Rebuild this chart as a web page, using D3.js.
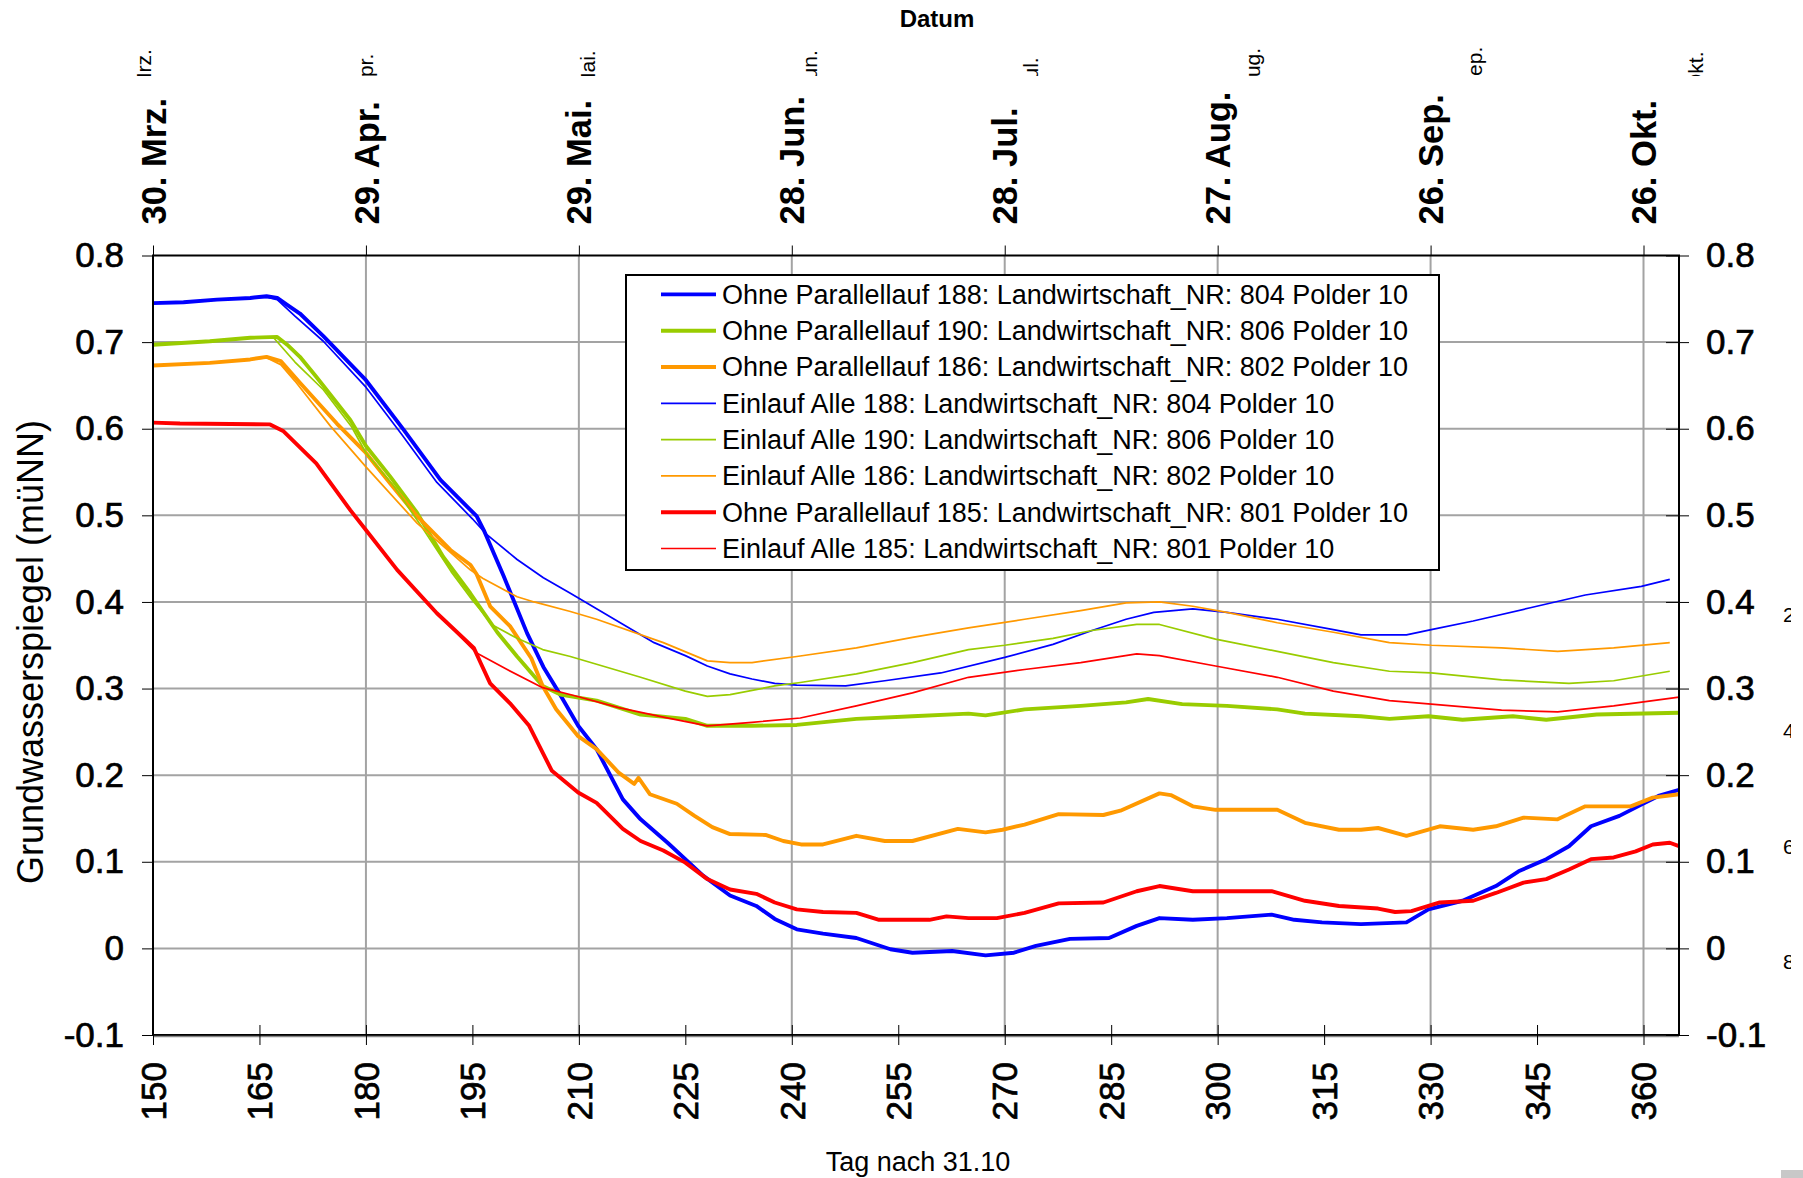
<!DOCTYPE html>
<html>
<head>
<meta charset="utf-8">
<script src="https://cdn.jsdelivr.net/npm/d3@7"></script>
<style>
  body { margin: 0; background: #fff; }
  svg { display: block; }
  text { font-family: "Liberation Sans", Arial, sans-serif; fill: #000; }
</style>
</head>
<body>
<svg id="chart" width="1803" height="1178"></svg>
<script>
// ---- data: groundwater level (m ü NN) per day after 31.10 ----
const ohne188 = [[150,0.745],[154.3,0.746],[159,0.749],[163.7,0.751],[166,0.753],[167.5,0.751],[168.9,0.743],[170.7,0.733],[174,0.707],[180,0.656],[185.3,0.599],[190.5,0.541],[195.6,0.499],[196.6,0.483],[199.4,0.43],[202.7,0.364],[205,0.325],[207,0.298],[209.9,0.257],[212.5,0.23],[216.2,0.172],[218.7,0.149],[222.5,0.122],[225,0.103],[227.5,0.084],[231.3,0.061],[235,0.049],[237.6,0.034],[240.7,0.022],[244.4,0.017],[249.1,0.012],[253.9,-0.001],[257,-0.005],[262.6,-0.003],[267.3,-0.008],[271.3,-0.005],[274.4,0.003],[279.2,0.011],[284.7,0.012],[288.6,0.026],[291.8,0.035],[296.5,0.033],[301.3,0.035],[307.6,0.039],[310.8,0.033],[314.7,0.03],[320.2,0.028],[326.6,0.03],[329.7,0.045],[334.5,0.055],[339.2,0.072],[342.4,0.089],[346.3,0.103],[349.5,0.118],[352.6,0.141],[356.6,0.153],[359.7,0.166],[362.1,0.176],[365,0.183]];
const ohne190 = [[150,0.697],[158,0.701],[163.7,0.705],[167.5,0.706],[168.9,0.697],[170.7,0.683],[173,0.66],[177.8,0.61],[180,0.58],[183.4,0.545],[187.2,0.503],[190.9,0.452],[194.7,0.41],[198.5,0.365],[201.3,0.337],[204.9,0.303],[207.4,0.293],[212.5,0.286],[218.7,0.27],[225,0.265],[228.1,0.257],[234.4,0.257],[240.7,0.258],[249.1,0.265],[257,0.268],[264.9,0.271],[267.3,0.269],[272.8,0.276],[280.7,0.28],[287.1,0.284],[290.2,0.288],[295,0.282],[301.3,0.28],[308.4,0.276],[312.3,0.271],[320.2,0.268],[324.2,0.265],[329.7,0.268],[334.5,0.264],[341.6,0.268],[346.3,0.264],[353.4,0.27],[365,0.272]];
const ohne186 = [[150,0.673],[158,0.676],[163.7,0.68],[166,0.683],[168,0.678],[170.7,0.653],[175.9,0.606],[180,0.572],[183.4,0.537],[187.2,0.499],[191.9,0.46],[194.7,0.443],[195.6,0.432],[197.5,0.395],[200.3,0.372],[203.3,0.335],[204.9,0.303],[206.8,0.276],[209.9,0.245],[212.5,0.23],[215.6,0.203],[217.8,0.19],[218.4,0.197],[220,0.178],[223.8,0.167],[226.3,0.153],[228.8,0.14],[231.3,0.132],[236.3,0.131],[238.8,0.124],[241.3,0.12],[244.4,0.12],[249.1,0.13],[253.1,0.124],[257,0.124],[263.4,0.138],[267.3,0.134],[269.7,0.137],[272.8,0.143],[277.6,0.155],[283.9,0.154],[286.3,0.159],[291.8,0.179],[293.4,0.177],[296.5,0.164],[299.7,0.16],[308.4,0.16],[312.3,0.145],[317.1,0.137],[320.2,0.137],[322.6,0.139],[326.6,0.13],[331.3,0.141],[336,0.137],[339.2,0.141],[343.1,0.151],[347.9,0.149],[351.8,0.164],[358.2,0.164],[361.3,0.174],[365,0.178]];
const einlauf188 = [[150,0.745],[154.3,0.746],[159,0.749],[163.7,0.751],[166,0.752],[167.5,0.749],[170,0.73],[174,0.701],[180,0.648],[185,0.594],[190,0.538],[195,0.496],[197,0.478],[201.3,0.449],[205,0.428],[208.8,0.41],[220.6,0.353],[225,0.338],[228.1,0.326],[231.3,0.317],[234.4,0.311],[237.6,0.306],[240.7,0.304],[247.6,0.303],[253.1,0.309],[261,0.318],[270,0.336],[276.8,0.351],[282.3,0.367],[287.1,0.38],[291,0.388],[296.5,0.392],[301.3,0.388],[308.4,0.38],[316.3,0.368],[320.2,0.362],[326.6,0.362],[330.1,0.368],[336,0.378],[343.9,0.393],[351.8,0.408],[359.7,0.418],[363.7,0.426]];
const einlauf190 = [[150,0.697],[158,0.701],[163.7,0.705],[167,0.705],[170,0.677],[174,0.645],[178,0.602],[180,0.572],[184,0.533],[188,0.485],[192,0.435],[195,0.402],[197.9,0.373],[201.3,0.358],[204.9,0.345],[208.8,0.337],[212.5,0.328],[218.7,0.313],[225,0.297],[228.1,0.291],[231.3,0.293],[237.6,0.303],[241.2,0.307],[249.1,0.317],[257,0.33],[264.9,0.345],[270,0.35],[276.8,0.358],[282.3,0.367],[288.6,0.374],[291.8,0.374],[299.7,0.357],[308.4,0.343],[316.3,0.33],[324.2,0.32],[330.1,0.318],[340,0.31],[349.5,0.306],[355.8,0.309],[363.7,0.32]];
const einlauf186 = [[150,0.673],[158,0.676],[163.7,0.68],[166,0.682],[168,0.674],[170,0.655],[175,0.603],[180,0.556],[187.2,0.491],[194.7,0.437],[196.5,0.427],[201.3,0.406],[203.7,0.4],[208.8,0.389],[212.5,0.38],[221.9,0.353],[228.1,0.332],[231.3,0.33],[234.4,0.33],[240.7,0.337],[249.1,0.347],[257,0.359],[264.9,0.37],[272.8,0.38],[280.7,0.39],[287.1,0.399],[291.8,0.4],[296.5,0.395],[301.3,0.388],[308.4,0.376],[316.3,0.365],[324.2,0.353],[330.1,0.35],[340,0.347],[347.9,0.343],[355.8,0.347],[363.7,0.353]];
const ohne185 = [[150,0.607],[153.8,0.606],[166.5,0.605],[168.4,0.597],[173,0.56],[177.8,0.506],[180,0.483],[184.4,0.437],[190,0.387],[195.2,0.347],[196.2,0.329],[197.5,0.306],[200.3,0.283],[203,0.257],[204.9,0.226],[206.2,0.205],[209.9,0.18],[212.5,0.168],[216.2,0.138],[218.7,0.124],[221.9,0.113],[225,0.099],[228.1,0.08],[231.3,0.068],[235,0.063],[237.6,0.053],[240.7,0.045],[244.4,0.042],[249.1,0.041],[252.3,0.033],[259.4,0.033],[261.8,0.037],[264.9,0.035],[268.9,0.035],[272.8,0.041],[277.6,0.052],[283.9,0.053],[288.6,0.066],[291.8,0.072],[296.5,0.066],[307.6,0.066],[312.3,0.055],[317.1,0.049],[322.6,0.046],[325,0.042],[327.3,0.043],[331.3,0.053],[336,0.055],[339.2,0.064],[343.1,0.076],[346.3,0.08],[349.5,0.091],[352.6,0.103],[355.8,0.105],[358.9,0.112],[361.3,0.12],[363.7,0.122],[365,0.118]];
const einlauf185 = [[150,0.607],[153.8,0.606],[166.5,0.605],[168.4,0.597],[173,0.56],[177.8,0.506],[180,0.483],[184.4,0.437],[190,0.387],[195.6,0.341],[199.9,0.322],[204.9,0.301],[209.3,0.292],[215.6,0.278],[221.9,0.267],[228.1,0.257],[234.4,0.261],[241.2,0.266],[249.1,0.28],[257,0.295],[264.9,0.313],[272.8,0.322],[280.7,0.33],[288.6,0.34],[291.8,0.338],[299.7,0.326],[308.4,0.313],[316.3,0.297],[324.2,0.286],[330.1,0.282],[340,0.275],[347.9,0.273],[355.8,0.28],[365,0.29]];

const seriesNames = [
  "Ohne Parallellauf 188: Landwirtschaft_NR: 804 Polder 10",
  "Ohne Parallellauf 190: Landwirtschaft_NR: 806 Polder 10",
  "Ohne Parallellauf 186: Landwirtschaft_NR: 802 Polder 10",
  "Einlauf Alle 188: Landwirtschaft_NR: 804 Polder 10",
  "Einlauf Alle 190: Landwirtschaft_NR: 806 Polder 10",
  "Einlauf Alle 186: Landwirtschaft_NR: 802 Polder 10",
  "Ohne Parallellauf 185: Landwirtschaft_NR: 801 Polder 10",
  "Einlauf Alle 185: Landwirtschaft_NR: 801 Polder 10"
];
const seriesValues = [ohne188, ohne190, ohne186, einlauf188, einlauf190, einlauf186, ohne185, einlauf185];
const seriesColors = ["#0000ff", "#99cc00", "#ff9900", "#0000ff", "#99cc00", "#ff9900", "#ff0000", "#ff0000"];
const seriesBold = [true, true, true, false, false, false, true, false];

const yTickValues = [-0.1, 0, 0.1, 0.2, 0.3, 0.4, 0.5, 0.6, 0.7, 0.8];
const dayTickValues = [150, 165, 180, 195, 210, 225, 240, 255, 270, 285, 300, 315, 330, 345, 360];
const dateTickValues = [150, 180, 210, 240, 270, 300, 330, 360];
const dateLabels = ["30. Mrz.", "29. Apr.", "29. Mai.", "28. Jun.", "28. Jul.", "27. Aug.", "26. Sep.", "26. Okt."];
const sideDigits = ["2", "4", "6", "8"];

// ---- layout ----
const svg = d3.select("#chart");
const L = 153, R = 1679, T = 255.5, B = 1035;
const x = d3.scaleLinear().domain([150, 365]).range([L, R]);
const y = d3.scaleLinear().domain([-0.1, 0.8]).range([B, T]);
const fmt = v => (Math.abs(v) < 1e-9 ? "0" : String(+v.toFixed(1)));
const tickFont = 35;

// numeric tick labels: regular face, slightly heavier outline
const styleNumbers = sel => sel.attr("font-size", tickFont).attr("font-family", null)
  .attr("stroke", "#000").attr("stroke-width", 0.7);

svg.append("rect").attr("width", 1803).attr("height", 1178).attr("fill", "#fff");

// grid
const grid = svg.append("g").attr("stroke", "#a3a3a3").attr("stroke-width", 2);
grid.selectAll("line.h").data(yTickValues.filter(v => v > -0.05 && v < 0.75)).join("line")
  .attr("x1", L).attr("x2", R).attr("y1", d => y(d)).attr("y2", d => y(d));
grid.selectAll("line.v").data(dateTickValues.filter(d => d > 150)).join("line")
  .attr("y1", T).attr("y2", B).attr("x1", d => x(d)).attr("x2", d => x(d));

// series
const line = d3.line().x(d => x(d[0])).y(d => y(d[1]));
svg.append("g").attr("fill", "none").attr("stroke-linejoin", "round")
  .selectAll("path").data(seriesValues).join("path")
  .attr("d", line)
  .attr("stroke", (d, i) => seriesColors[i])
  .attr("stroke-width", (d, i) => seriesBold[i] ? 3.9 : 1.7);

// frame
svg.append("rect").attr("x", L).attr("y", T).attr("width", R - L).attr("height", B - T)
  .attr("fill", "none").attr("stroke", "#000").attr("stroke-width", 2);
svg.append("line").attr("x1", L).attr("x2", R).attr("y1", B + 1.5).attr("y2", B + 1.5)
  .attr("stroke", "#888").attr("stroke-width", 1.5);

// left axis
const gl = svg.append("g").attr("transform", `translate(${L},0)`)
  .call(d3.axisLeft(y).tickValues(yTickValues).tickSize(11).tickPadding(18).tickFormat(fmt));
gl.select(".domain").remove();
gl.selectAll("text").call(styleNumbers);

// right axis
const gr = svg.append("g").attr("transform", `translate(${R},0)`)
  .call(d3.axisRight(y).tickValues(yTickValues).tickSize(10).tickPadding(17).tickFormat(fmt));
gr.select(".domain").remove();
gr.selectAll("line").attr("x1", -13);
gr.selectAll("text").call(styleNumbers);

// bottom axis (days)
const gb = svg.append("g").attr("transform", `translate(0,${B})`)
  .call(d3.axisBottom(x).tickValues(dayTickValues).tickSize(10).tickFormat(d3.format("d")));
gb.select(".domain").remove();
gb.selectAll("line").attr("y1", -10);
gb.selectAll("text").call(styleNumbers)
  .attr("x", 0).attr("y", 0).attr("dy", "0.35em")
  .attr("transform", "translate(0,27) rotate(-90)").attr("text-anchor", "end");

// top axis (dates)
const gt = svg.append("g").attr("transform", `translate(0,${T})`)
  .call(d3.axisTop(x).tickValues(dateTickValues).tickSize(10).tickFormat((d, i) => dateLabels[i]));
gt.select(".domain").remove();
gt.selectAll("text").attr("font-size", 34.5).attr("font-weight", "bold").attr("font-family", null)
  .attr("x", 0).attr("y", 0).attr("dy", "0.35em")
  .attr("transform", "translate(0,-31) rotate(-90)").attr("text-anchor", "start");

// clipped second row of date labels at the top edge
svg.append("clipPath").attr("id", "topClip")
  .append("rect").attr("x", 100).attr("y", 30).attr("width", 1680).attr("height", 46);
const fragX = d3.scaleLinear().domain([0, dateLabels.length - 1]).range([144, 1696]);
svg.append("g").attr("clip-path", "url(#topClip)")
  .selectAll("text").data(dateLabels).join("text")
  .attr("transform", (d, i) => `translate(${fragX(i)},125) rotate(-90)`)
  .attr("dy", "0.35em").attr("font-size", 21).text(d => d);

// clipped digits at the right edge
svg.append("clipPath").attr("id", "sideClip")
  .append("rect").attr("x", 1760).attr("y", 560).attr("width", 31).attr("height", 440);
const sideY = d3.scaleLinear().domain([0, sideDigits.length - 1]).range([615, 962]);
svg.append("g").attr("clip-path", "url(#sideClip)")
  .selectAll("text").data(sideDigits).join("text")
  .attr("x", 1783).attr("y", (d, i) => sideY(i)).attr("dy", "0.35em")
  .attr("font-size", 21).text(d => d);

svg.append("rect").attr("x", 1781).attr("y", 1170).attr("width", 22).attr("height", 8).attr("fill", "#c8c8c8");

// titles
svg.append("text").attr("x", 937).attr("y", 27).attr("text-anchor", "middle")
  .attr("font-size", 24).attr("font-weight", "bold").text("Datum");
svg.append("text").attr("x", 918).attr("y", 1171).attr("text-anchor", "middle")
  .attr("font-size", 27).text("Tag nach 31.10");
svg.append("text").attr("transform", "translate(30,652) rotate(-90)").attr("dy", "0.35em")
  .attr("text-anchor", "middle").attr("font-size", 36).text("Grundwasserspiegel (müNN)");

// legend
const lg = svg.append("g");
lg.append("rect").attr("x", 626).attr("y", 275).attr("width", 813).attr("height", 295)
  .attr("fill", "#fff").attr("stroke", "#000").attr("stroke-width", 2);
const rowY = i => 294.4 + i * 36.3;
const items = lg.selectAll("g.item").data(seriesNames).join("g")
  .attr("transform", (d, i) => `translate(0,${rowY(i)})`);
items.append("line").attr("x1", 661).attr("x2", 716)
  .attr("stroke", (d, i) => seriesColors[i])
  .attr("stroke-width", (d, i) => seriesBold[i] ? 3.9 : 1.7);
items.append("text").attr("x", 722).attr("dy", "0.35em").attr("font-size", 27).text(d => d);
</script>
</body>
</html>
